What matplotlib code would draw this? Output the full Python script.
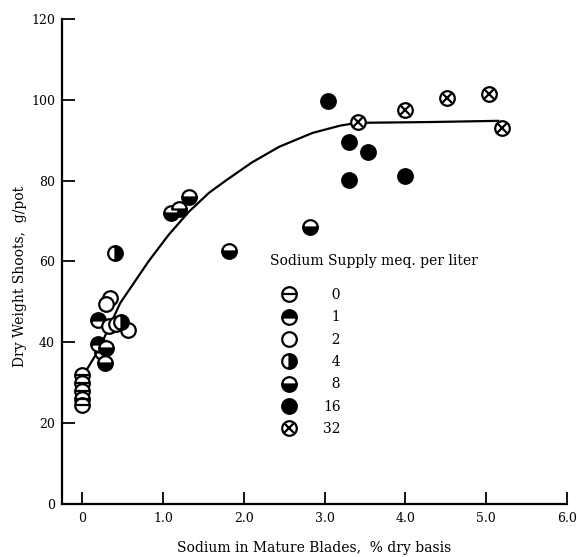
import matplotlib
matplotlib.use('Agg')
from matplotlib import pyplot as plt
from matplotlib.lines import Line2D

plt.rcParams['font.family'] = 'DejaVu Serif'

# data, grouped by sodium supply (meq. per liter)
na0_x = [0.0, 0.0, 0.0, 0.0, 0.0]
na0_y = [32, 30, 28, 26, 24.5]
na1_x = [0.2, 0.2, 0.25]
na1_y = [45.5, 39.5, 37.5]
na2_x = [0.35, 0.3, 0.33, 0.57, 0.42]
na2_y = [51, 49.5, 44, 43, 44.5]
na4_x = [0.48, 0.41]
na4_y = [45, 62]
na8_x = [0.3, 0.28, 1.1, 1.2, 1.32, 1.82, 2.82]
na8_y = [38.5, 35, 72, 73, 76, 62.5, 68.5]
na16_x = [3.04, 3.3, 3.54, 3.3, 3.99]
na16_y = [99.8, 89.6, 87.1, 80.2, 81.2]
na32_x = [3.41, 4.0, 4.51, 5.03, 5.2]
na32_y = [94.6, 97.5, 100.5, 101.5, 93]

curve_x = [0.04, 0.2, 0.47, 0.82, 1.07, 1.32, 1.57, 1.79, 2.1, 2.44, 2.85, 3.19, 3.4, 4.3, 5.15]
curve_y = [32.7, 38, 49.7, 60, 66.6, 72.3, 77, 80.2, 84.5, 88.4, 91.8, 93.6, 94.3, 94.5, 94.8]

supply_labels = ['  0', '  1', '  2', '  4', '  8', '16', '32']

ms = 10.5
mew = 1.6
base = dict(linestyle='none', marker='o', markersize=ms, markeredgewidth=mew,
            markeredgecolor='black')

fig = plt.figure(figsize=(5.77, 5.57), dpi=100)
ax = fig.add_axes([0.1075, 0.0952, 0.875, 0.8707])

ax.plot(curve_x, curve_y, color='black', lw=1.6, zorder=1)

ax.plot(na0_x, na0_y, markerfacecolor='white', zorder=3, **base)
ax.plot(na0_x, na0_y, linestyle='none', marker='_', markersize=ms, markeredgewidth=mew,
        color='black', zorder=3)
ax.plot(na1_x, na1_y, fillstyle='top', markerfacecolor='black',
        markerfacecoloralt='white', zorder=3, **base)
ax.plot(na2_x, na2_y, markerfacecolor='white', zorder=3, **base)
ax.plot(na4_x, na4_y, fillstyle='right', markerfacecolor='black',
        markerfacecoloralt='white', zorder=3, **base)
ax.plot(na8_x, na8_y, fillstyle='bottom', markerfacecolor='black',
        markerfacecoloralt='white', zorder=3, **base)
ax.plot(na16_x, na16_y, markerfacecolor='black', zorder=3, **base)
ax.plot(na32_x, na32_y, markerfacecolor='white', zorder=3, **base)
ax.plot(na32_x, na32_y, linestyle='none', marker='x', markersize=ms * 0.68,
        markeredgewidth=mew, color='black', zorder=4)

ax.set_xlim(-0.25, 6.0)
ax.set_ylim(0, 120)
ax.set_xticks([0, 1, 2, 3, 4, 5, 6])
ax.set_xticklabels(['0', '1.0', '2.0', '3.0', '4.0', '5.0', '6.0'])
ax.set_yticks([0, 20, 40, 60, 80, 100, 120])
ax.tick_params(direction='in', length=9, width=1.3, labelsize=9, colors='black')
ax.tick_params(axis='x', pad=6)
ax.tick_params(axis='y', pad=5)
for s in ['top', 'right']:
    ax.spines[s].set_visible(False)
for s in ['left', 'bottom']:
    ax.spines[s].set_linewidth(1.6)

ax.set_xlabel('Sodium in Mature Blades,  % dry basis', fontsize=10, va='center')
ax.set_ylabel('Dry Weight Shoots,  g/pot', fontsize=10, va='center')
ax.xaxis.set_label_coords(0.5, -0.091)
ax.yaxis.set_label_coords(-0.083, 0.47)

ax.text(0.412, 0.5, 'Sodium Supply meq. per liter', transform=ax.transAxes,
        fontsize=10, ha='left', va='center')

h_open = Line2D([], [], markerfacecolor='white', **base)
h0 = (h_open, Line2D([], [], linestyle='none', marker='_', markersize=ms,
                     markeredgewidth=mew, color='black'))
h1 = Line2D([], [], fillstyle='top', markerfacecolor='black', markerfacecoloralt='white', **base)
h2 = Line2D([], [], markerfacecolor='white', **base)
h4 = Line2D([], [], fillstyle='right', markerfacecolor='black', markerfacecoloralt='white', **base)
h8 = Line2D([], [], fillstyle='bottom', markerfacecolor='black', markerfacecoloralt='white', **base)
h16 = Line2D([], [], markerfacecolor='black', **base)
h32 = (h_open, Line2D([], [], linestyle='none', marker='x', markersize=ms * 0.68,
                      markeredgewidth=mew, color='black'))

ax.legend([h0, h1, h2, h4, h8, h16, h32], supply_labels,
          loc='upper left', bbox_to_anchor=(0.435, 0.445), frameon=False,
          fontsize=10, handlelength=1.0, handletextpad=2.0, labelspacing=0.6,
          borderpad=0, borderaxespad=0)

plt.savefig('out.png')
